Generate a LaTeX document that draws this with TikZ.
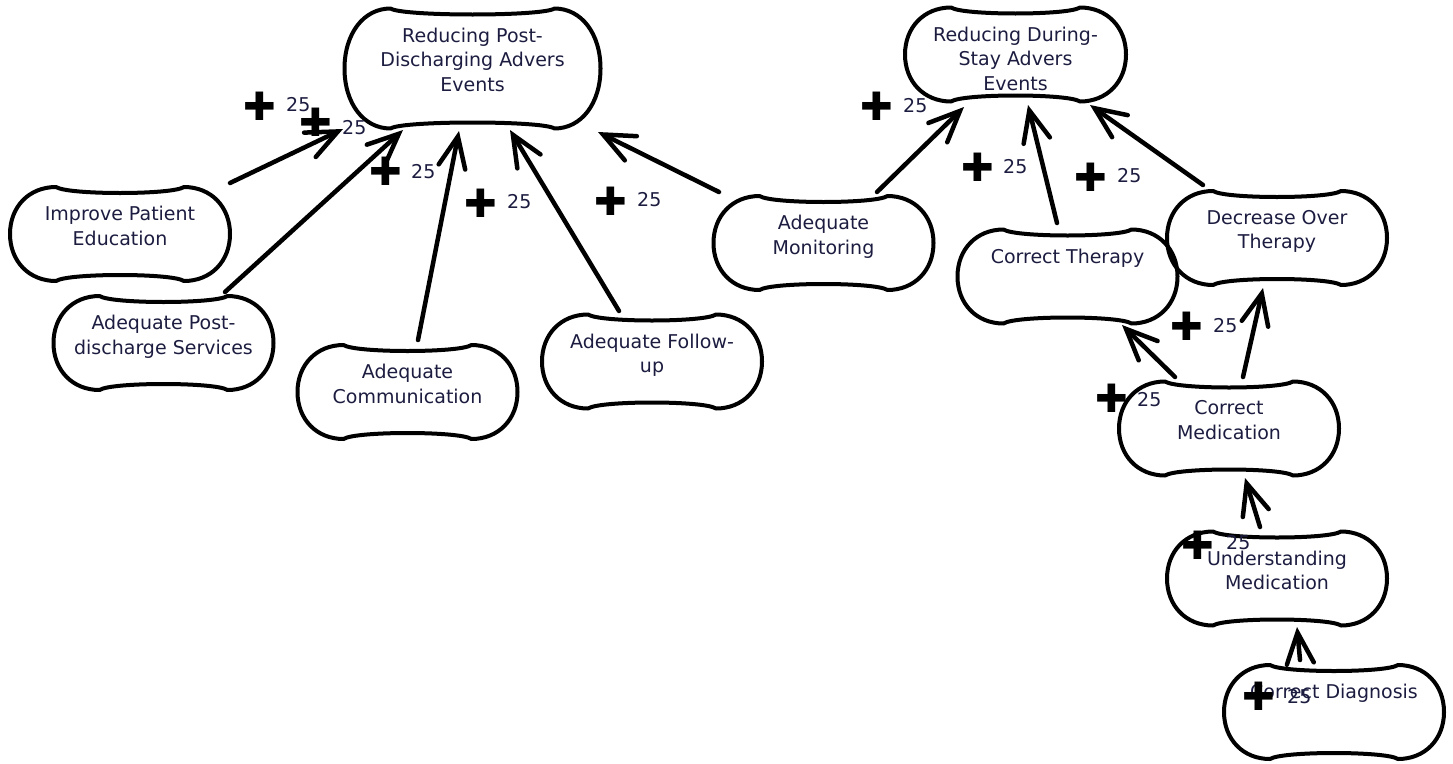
\documentclass[tikz,border=0pt]{standalone}
\usepackage{fontspec}
\setmainfont{DejaVu Sans}
\usetikzlibrary{arrows.meta}
\definecolor{txtc}{RGB}{28,28,64}
\tikzset{
 sgbox/.style={draw=none, inner sep=0pt, outer sep=0pt},
 sgline/.style={draw=black, line width=4pt, line join=round},
 sgtext/.style={text=txtc, font=\fontsize{19}{24.5}\selectfont, align=center, anchor=north, inner sep=0pt},
 arr/.style={line width=4.5pt, line cap=round, -{Straight Barb[length=31pt,width=27pt,line cap=round]}},
 plusmark/.style={font=\fontsize{39}{39}\selectfont, inner sep=0pt},
 weight/.style={text=txtc, font=\fontsize{19}{18}\selectfont, inner sep=0pt, anchor=west},
}
\newcommand\softgoal[6]{%
 \node[sgbox, minimum width=#4pt, minimum height=#5pt] (#1) at (#2,#3) {};
 \pgfmathsetmacro\sgA{#4/2}\pgfmathsetmacro\sgB{#5/2}%
 \draw[sgline, shift={(#1.center)}] (-\sgA+46,-\sgB) .. controls (-\sgA+58,-\sgB+8) and (\sgA-58,-\sgB+8) .. (\sgA-46,-\sgB)
   .. controls (\sgA-19,-\sgB) and (\sgA,-0.58*\sgB) .. (\sgA,0)
   .. controls (\sgA,0.58*\sgB) and (\sgA-19,\sgB) .. (\sgA-46,\sgB)
   .. controls (\sgA-58,\sgB-8) and (-\sgA+58,\sgB-8) .. (-\sgA+46,\sgB)
   .. controls (-\sgA+19,\sgB) and (-\sgA,0.58*\sgB) .. (-\sgA,0)
   .. controls (-\sgA,-0.58*\sgB) and (-\sgA+19,-\sgB) .. cycle;
 \node[sgtext] (#1-t) at ([yshift=-19pt]#1.north) {#6};
}
\newcommand\contrib[5]{% name, plus x, plus y, 25 x, 25 y
 \node[plusmark] (#1p) at (#2,#3) {✚};
 \node[weight] (#1w) at (#4,#5) {25};
}
\begin{document}
\begin{tikzpicture}[x=1pt,y=-1pt]
\useasboundingbox (0,0) rectangle (1453,763);
% soft goals
\softgoal{g1}{472.5}{68.5}{256}{120}{Reducing Post-\\Discharging Advers\\Events}
\softgoal{g2}{1015.5}{54.5}{221}{94}{Reducing During-\\Stay Advers\\Events}
\softgoal{ipe}{120}{234}{220}{94}{Improve Patient\\Education}
\softgoal{pds}{163.5}{343}{220}{94}{Adequate Post-\\discharge Services}
\softgoal{com}{407.5}{392}{220}{94}{Adequate\\Communication}
\softgoal{fol}{652}{361.5}{220}{94}{Adequate Follow-\\up}
\softgoal{mon}{823.5}{243}{220}{94}{Adequate\\Monitoring}
\softgoal{ct}{1067.5}{276.5}{220}{94}{Correct Therapy}
\softgoal{dot}{1277}{238}{220}{94}{Decrease Over\\Therapy}
\softgoal{cm}{1229}{428.5}{220}{94}{Correct\\Medication}
\softgoal{um}{1277}{578.5}{220}{94}{Understanding\\Medication}
\softgoal{cd}{1334}{712}{220}{94}{Correct Diagnosis}
% contributions
\draw[arr] ([shift={(110,-51)}]ipe.center) -- ([shift={(-129.5,60.5)}]g1.center);
\draw[arr] ([shift={(61.5,-51)}]pds.center) -- ([shift={(-69.5,61.5)}]g1.center);
\draw[arr] ([shift={(10.5,-52)}]com.center) -- ([shift={(-13.5,62.5)}]g1.center);
\draw[arr] ([shift={(-33,-50.5)}]fol.center) -- ([shift={(37.5,61.5)}]g1.center);
\draw[arr] ([shift={(-104.5,-51)}]mon.center) -- ([shift={(125.5,63.5)}]g1.center);
\draw[arr] ([shift={(53.5,-51)}]mon.center) -- ([shift={(-51.5,52.5)}]g2.center);
\draw[arr] ([shift={(-10.5,-53.5)}]ct.center) -- ([shift={(12.5,50.5)}]g2.center);
\draw[arr] ([shift={(-74,-53)}]dot.center) -- ([shift={(74.5,50.5)}]g2.center);
\draw[arr] ([shift={(-54,-51.5)}]cm.center) -- ([shift={(54.5,48.5)}]ct.center);
\draw[arr] ([shift={(14,-51.5)}]cm.center) -- ([shift={(-14,50)}]dot.center);
\draw[arr] ([shift={(-17,-51.5)}]um.center) -- ([shift={(16,49.5)}]cm.center);
\draw[arr] ([shift={(-34,-52)}]cd.center) -- ([shift={(20,48.5)}]um.center);
% labels
\contrib{c1}{260}{106}{286}{105}
\contrib{c2}{316}{122}{342}{128}
\contrib{c3}{386}{171}{411}{172}
\contrib{c4}{481}{203}{507}{202}
\contrib{c5}{611}{201}{637}{200}
\contrib{c6}{877}{106}{903}{106}
\contrib{c7}{978}{167}{1003}{167}
\contrib{c8}{1091}{177}{1117}{176}
\contrib{c9}{1187}{326}{1213}{326}
\contrib{c10}{1112}{398}{1137}{400}
\contrib{c11}{1198}{545}{1226}{543}
\contrib{c12}{1259}{696}{1287}{697}
\end{tikzpicture}
\end{document}
